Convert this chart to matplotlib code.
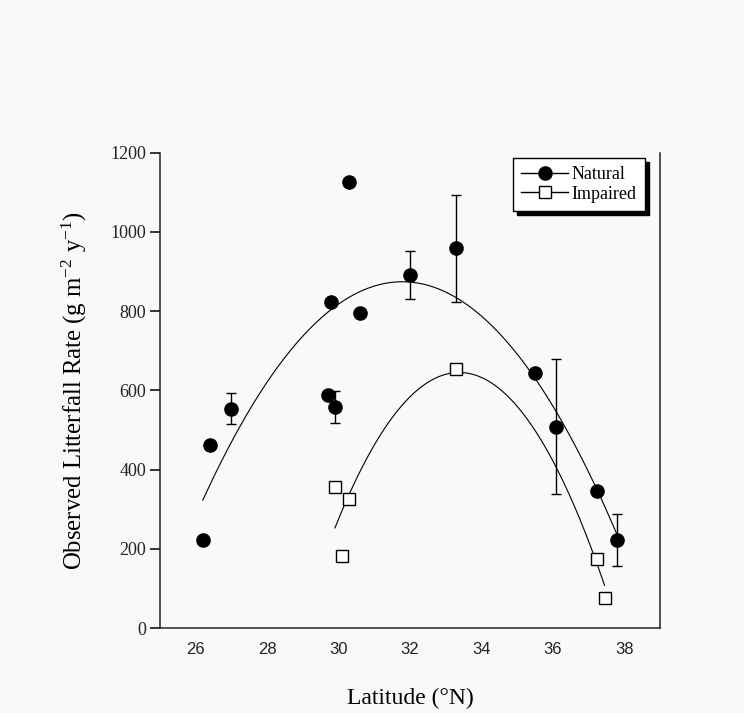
import numpy as np
import matplotlib
matplotlib.use("Agg")
import matplotlib.pyplot as plt
from matplotlib.lines import Line2D

# Natural sites
nat_lat = [26.2, 26.4, 27.0, 29.7, 29.8, 29.9, 30.3, 30.6, 32.0, 33.3, 35.5, 36.1, 37.25, 37.8]
nat_rate = [223, 463, 554, 587, 824, 558, 1127, 796, 891, 958, 643, 508, 347, 222]
nat_err = [0, 0, 40, 0, 0, 40, 0, 0, 60, 135, 0, 170, 0, 65]

# Impaired sites
imp_lat = [29.9, 30.1, 30.3, 33.3, 37.25, 37.45]
imp_rate = [357, 182, 326, 653, 174, 76]

# Points
nat_curve_x = [26.2, 29.8, 31.65, 33.3, 36.1, 37.8]
nat_curve_y = [320, 811, 874, 830, 540, 240]
imp_curve_x = [29.9, 30.3, 32.0, 33.3, 36.0, 37.2, 37.45]
imp_curve_y = [248, 340, 588, 648, 407, 189, 100]

xticks = [26, 28, 30, 32, 34, 36, 38]
yticks = [0, 200, 400, 600, 800, 1000, 1200]

serif = "Liberation Serif"
sans = "Liberation Sans"
plt.rcParams["mathtext.fontset"] = "custom"
plt.rcParams["mathtext.rm"] = serif
plt.rcParams["mathtext.it"] = serif + ":italic"
plt.rcParams["mathtext.default"] = "regular"

bg = "#f9f9f9"
fig = plt.figure(figsize=(7.44, 7.13), dpi=100, facecolor=bg)
ax = fig.add_axes([0.215, 0.1192, 0.672, 0.6668])
ax.set_facecolor(bg)

# Fitted curves
cn = np.polyfit(nat_curve_x, nat_curve_y, 2)
xn = np.linspace(min(nat_curve_x), max(nat_curve_x), 200)
ax.plot(xn, np.polyval(cn, xn), color="black", lw=0.8, zorder=2)
ci = np.polyfit(imp_curve_x, imp_curve_y, 2)
xi = np.linspace(min(imp_curve_x), max(imp_curve_x), 200)
ax.plot(xi, np.polyval(ci, xi), color="black", lw=0.8, zorder=2)

# Error bars for natural
for x, y, e in zip(nat_lat, nat_rate, nat_err):
    if e > 0:
        ax.errorbar([x], [y], yerr=[e], fmt="none", ecolor="black",
                    elinewidth=1.0, capsize=3.5, capthick=1.0, zorder=3)

ax.plot(nat_lat, nat_rate, linestyle="none", marker="o", markersize=9.5,
        markerfacecolor="black", markeredgecolor="black", zorder=4)
ax.plot(imp_lat, imp_rate, linestyle="none", marker="s", markersize=8.5,
        markerfacecolor="white", markeredgecolor="black", markeredgewidth=1.0, zorder=4)

ax.set_xlim(25, 39)
ax.set_ylim(0, 1200)

ax.spines["top"].set_visible(False)
for s in ["left", "bottom", "right"]:
    ax.spines[s].set_linewidth(1.1)
    ax.spines[s].set_color("#222222")

ax.set_xticks(xticks)
ax.set_xticklabels([str(t) for t in xticks], fontfamily=sans, fontsize=12, color="#222222")
ax.tick_params(axis="x", length=0, pad=10)
ax.set_yticks(yticks)
ax.set_yticklabels([str(t) for t in yticks], fontfamily=serif, fontsize=13, color="#222222")
ax.tick_params(axis="y", length=7, width=1.1, direction="out", pad=3, right=False)

ax.set_xlabel("Latitude (°N)", fontfamily=serif, fontsize=17, labelpad=22)
ax.set_ylabel(r"Observed Litterfall Rate (g m$^{-2}$ y$^{-1}$)", fontfamily=serif,
              fontsize=17.8, labelpad=15)

handles = [
    Line2D([], [], color="black", lw=1.0, marker="o", markersize=9.5,
           markerfacecolor="black", markeredgecolor="black"),
    Line2D([], [], color="black", lw=1.0, marker="s", markersize=8.5,
           markerfacecolor="white", markeredgecolor="black"),
]
leg = ax.legend(handles, ["Natural", "Impaired"], loc="upper right",
                bbox_to_anchor=(0.97, 0.989), borderaxespad=0,
                prop={"family": serif, "size": 13}, frameon=True,
                fancybox=False, edgecolor="black", framealpha=1,
                shadow={"color": "black", "alpha": 1, "ox": 3, "oy": -3},
                handlelength=2.6, handletextpad=0.2, labelspacing=0.15,
                borderpad=0.45)
leg.get_frame().set_linewidth(1.0)
leg.get_frame().set_facecolor("white")

fig.savefig("out.png", dpi=100, facecolor=bg)
